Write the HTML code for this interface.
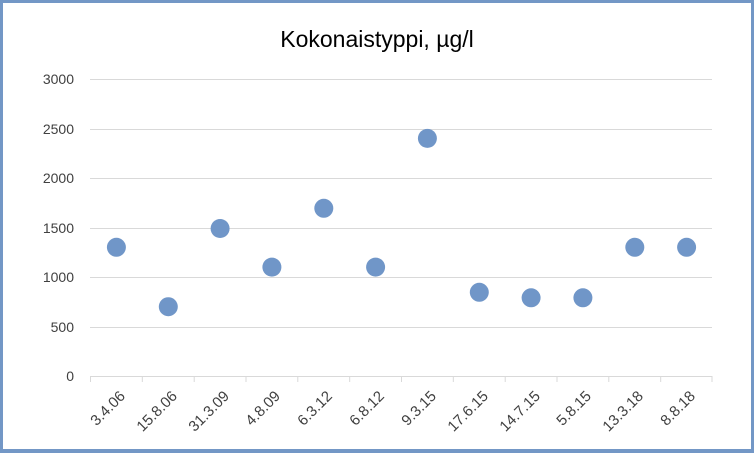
<!DOCTYPE html>
<html><head><style>
html,body{margin:0;padding:0;background:#fff}
svg{display:block}
text{font-family:"Liberation Sans",Calibri,sans-serif;fill:#404040}
</style></head><body>
<svg width="754" height="453" viewBox="0 0 754 453" xmlns="http://www.w3.org/2000/svg">
<rect x="1.5" y="1.5" width="751" height="450" fill="#fff" stroke="#7397c6" stroke-width="3"/>
<rect x="0" y="449" width="754" height="4" fill="#7397c6"/>
<text x="377" y="47" font-size="23" text-anchor="middle" style="fill:#000">Kokonaistyppi, µg/l</text>
<g stroke="#d9d9d9" stroke-width="1">
<line x1="90" x2="712" y1="79.5" y2="79.5"/>
<line x1="90" x2="712" y1="129.5" y2="129.5"/>
<line x1="90" x2="712" y1="178.5" y2="178.5"/>
<line x1="90" x2="712" y1="228.5" y2="228.5"/>
<line x1="90" x2="712" y1="277.5" y2="277.5"/>
<line x1="90" x2="712" y1="327.5" y2="327.5"/>
<line x1="90" x2="712" y1="376.5" y2="376.5"/>
<line x1="90.5" x2="90.5" y1="376" y2="382"/>
<line x1="142.3" x2="142.3" y1="376" y2="382"/>
<line x1="194.2" x2="194.2" y1="376" y2="382"/>
<line x1="246" x2="246" y1="376" y2="382"/>
<line x1="297.8" x2="297.8" y1="376" y2="382"/>
<line x1="349.7" x2="349.7" y1="376" y2="382"/>
<line x1="401.5" x2="401.5" y1="376" y2="382"/>
<line x1="453.3" x2="453.3" y1="376" y2="382"/>
<line x1="505.2" x2="505.2" y1="376" y2="382"/>
<line x1="557" x2="557" y1="376" y2="382"/>
<line x1="608.8" x2="608.8" y1="376" y2="382"/>
<line x1="660.7" x2="660.7" y1="376" y2="382"/>
<line x1="712" x2="712" y1="376" y2="382"/>
</g>
<g font-size="14" text-anchor="end">
<text x="74" y="84">3000</text>
<text x="74" y="134">2500</text>
<text x="74" y="183">2000</text>
<text x="74" y="233">1500</text>
<text x="74" y="282">1000</text>
<text x="74" y="332">500</text>
<text x="74" y="381">0</text>
</g>
<g font-size="15" text-anchor="end">
<text transform="translate(126,397) rotate(-45)">3.4.06</text>
<text transform="translate(178,397) rotate(-45)">15.8.06</text>
<text transform="translate(230,397) rotate(-45)">31.3.09</text>
<text transform="translate(281,397) rotate(-45)">4.8.09</text>
<text transform="translate(333,397) rotate(-45)">6.3.12</text>
<text transform="translate(385,397) rotate(-45)">6.8.12</text>
<text transform="translate(437,397) rotate(-45)">9.3.15</text>
<text transform="translate(489,397) rotate(-45)">17.6.15</text>
<text transform="translate(541,397) rotate(-45)">14.7.15</text>
<text transform="translate(592,397) rotate(-45)">5.8.15</text>
<text transform="translate(644,397) rotate(-45)">13.3.18</text>
<text transform="translate(696,397) rotate(-45)">8.8.18</text>
</g>
<g fill="#7096c8">
<circle cx="116.4" cy="247.3" r="9.5"/>
<circle cx="168.3" cy="306.7" r="9.5"/>
<circle cx="220.1" cy="228.5" r="9.5"/>
<circle cx="271.9" cy="267.1" r="9.5"/>
<circle cx="323.8" cy="208.3" r="9.5"/>
<circle cx="375.6" cy="267.1" r="9.5"/>
<circle cx="427.4" cy="138.4" r="9.5"/>
<circle cx="479.3" cy="292.3" r="9.5"/>
<circle cx="531.1" cy="297.8" r="9.5"/>
<circle cx="582.9" cy="297.8" r="9.5"/>
<circle cx="634.8" cy="247.3" r="9.5"/>
<circle cx="686.6" cy="247.3" r="9.5"/>
</g>
</svg>
</body></html>
